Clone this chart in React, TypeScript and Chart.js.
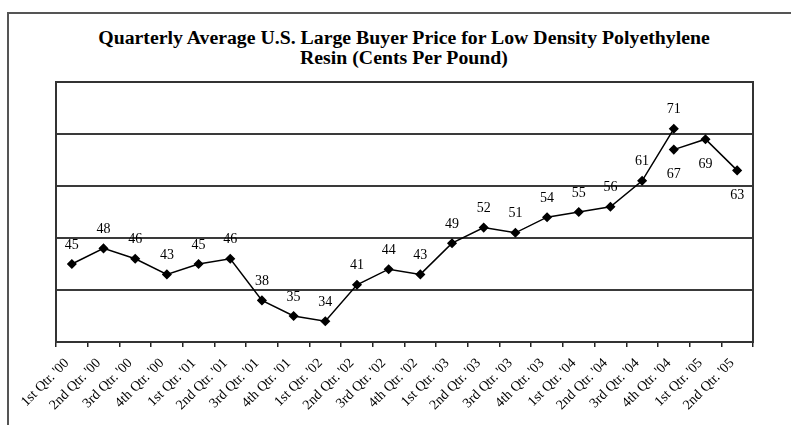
import React, { useEffect, useRef } from "react";
import { Chart, registerables } from "chart.js";

Chart.register(...registerables);

const categories = [
  "1st Qtr. '00", "2nd Qtr. '00", "3rd Qtr. '00", "4th Qtr. '00",
  "1st Qtr. '01", "2nd Qtr. '01", "3rd Qtr. '01", "4th Qtr. '01",
  "1st Qtr. '02", "2nd Qtr. '02", "3rd Qtr. '02", "4th Qtr. '02",
  "1st Qtr. '03", "2nd Qtr. '03", "3rd Qtr. '03", "4th Qtr. '03",
  "1st Qtr. '04", "2nd Qtr. '04", "3rd Qtr. '04", "4th Qtr. '04",
  "1st Qtr. '05", "2nd Qtr. '05",
];

const priceSeries = [45, 48, 46, 43, 45, 46, 38, 35, 34, 41, 44, 43, 49, 52, 51, 54, 55, 56, 61, 71, null, null];
const revisedSeries = [null, null, null, null, null, null, null, null, null, null, null, null, null, null, null, null, null, null, null, 67, 69, 63];

const yMin = 30;
const yMax = 80;
const yStep = 10;

const titleLines = [
  "Quarterly Average U.S. Large Buyer Price for Low Density Polyethylene",
  "Resin (Cents Per Pound)",
];

const labelPlugin = {
  id: "valueLabels",
  afterDatasetsDraw(chart: any) {
    const ctx = chart.ctx;
    ctx.save();
    ctx.font = "14px 'Liberation Serif', 'Times New Roman', serif";
    ctx.fillStyle = "#000";
    ctx.textAlign = "center";
    ctx.textBaseline = "middle";
    chart.data.datasets.forEach((ds: any, di: number) => {
      const meta = chart.getDatasetMeta(di);
      meta.data.forEach((pt: any, i: number) => {
        const v = ds.data[i];
        if (v === null || v === undefined) return;
        const dy = di === 0 ? -19 : 25;
        ctx.fillText(String(v), pt.x, pt.y + dy);
      });
    });
    ctx.restore();
  },
};

const borderPlugin = {
  id: "plotBorder",
  afterDraw(chart: any) {
    const { ctx, chartArea } = chart;
    ctx.save();
    ctx.strokeStyle = "#333";
    ctx.lineWidth = 2;
    ctx.strokeRect(chartArea.left, chartArea.top, chartArea.right - chartArea.left, chartArea.bottom - chartArea.top);
    ctx.restore();
  },
};

export default function App() {
  const ref = useRef<HTMLCanvasElement | null>(null);
  useEffect(() => {
    if (!ref.current) return;
    const chart = new Chart(ref.current, {
      type: "line",
      data: {
        labels: categories,
        datasets: [
          {
            data: priceSeries,
            borderColor: "#000",
            backgroundColor: "#000",
            borderWidth: 1.5,
            pointStyle: "rectRot",
            pointRadius: 4,
            pointBackgroundColor: "#000",
            pointBorderColor: "#000",
            spanGaps: false,
          },
          {
            data: revisedSeries,
            borderColor: "#000",
            backgroundColor: "#000",
            borderWidth: 1.5,
            pointStyle: "rectRot",
            pointRadius: 4,
            pointBackgroundColor: "#000",
            pointBorderColor: "#000",
            spanGaps: false,
          },
        ],
      },
      options: {
        responsive: false,
        animation: false,
        devicePixelRatio: 1,
        layout: { padding: { left: 56, right: 38, top: 82, bottom: 0 } },
        plugins: {
          legend: { display: false },
          tooltip: { enabled: false },
          title: { display: false },
        },
        scales: {
          x: {
            type: "category",
            offset: true,
            grid: {
              display: true,
              offset: true,
              drawOnChartArea: false,
              drawTicks: true,
              tickLength: 5,
              color: "#222",
              lineWidth: 1.5,
            },
            border: { display: true, color: "#222", width: 2 },
            ticks: {
              autoSkip: false,
              maxRotation: 45,
              minRotation: 45,
              color: "#000",
              padding: 8,
              labelOffset: -5,
              font: { family: "'Liberation Serif', 'Times New Roman', serif", size: 14 },
            },
            afterFit: (scale: any) => {
              scale.height = 83;
            },
          },
          y: {
            min: yMin,
            max: yMax,
            ticks: { display: false, stepSize: yStep },
            grid: { color: "#3a3a3a", lineWidth: 2, drawTicks: false },
            border: { display: true, color: "#222", width: 2 },
            afterFit: (scale: any) => {
              scale.width = 0;
            },
          },
        },
      },
      plugins: [labelPlugin, borderPlugin],
    });
    return () => chart.destroy();
  }, []);

  return (
    <div style={{ position: "absolute", left: 0, top: 0, width: 791, height: 425, overflow: "hidden", background: "#fff" }}>
      <div
        style={{
          position: "absolute",
          left: 7,
          top: 12,
          width: 900,
          height: 500,
          border: "2px solid #555",
          boxSizing: "border-box",
        }}
      />
      <div
        style={{
          position: "absolute",
          left: 0,
          top: 27,
          width: 808,
          textAlign: "center",
          fontFamily: "'Liberation Serif', 'Times New Roman', serif",
          fontWeight: "bold",
          fontSize: 19.8,
          lineHeight: "20px",
          color: "#000",
        }}
      >
        {titleLines.map((t, i) => (
          <div key={i}>{t}</div>
        ))}
      </div>
      <canvas ref={ref} width={791} height={425} style={{ position: "absolute", left: 0, top: 0, width: 791, height: 425 }} />
    </div>
  );
}
